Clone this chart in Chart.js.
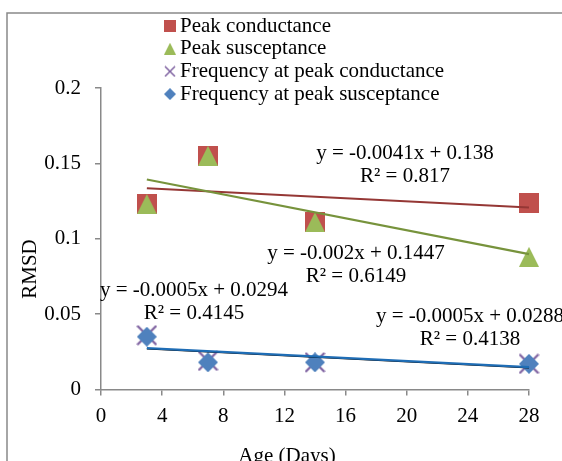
<!DOCTYPE html>
<html><head><meta charset="utf-8">
<script src="https://cdn.jsdelivr.net/npm/chart.js@4/dist/chart.umd.min.js"></script>
<style>html,body{margin:0;padding:0;background:#fff;overflow:hidden}</style>
</head><body>
<canvas id="c" width="562" height="461"></canvas>
<script>
// ---- data ----
const ages = [3, 7, 14, 28];
const peakConductance = [0.123, 0.155, 0.111, 0.124];
const peakSusceptance = [0.123, 0.155, 0.111, 0.088];
const freqPeakConductance = [0.036, 0.019, 0.018, 0.017];
const freqPeakSusceptance = [0.035, 0.018, 0.018, 0.017];
const trendAges = [3, 28];
const trendConductance = [0.1335, 0.1207];
const trendSusceptance = [0.1393, 0.0898];
const trendFreqConductance = [0.0270, 0.0145];
const trendFreqSusceptance = [0.0274, 0.0148];
const seriesNames = ['Peak conductance', 'Peak susceptance', 'Frequency at peak conductance', 'Frequency at peak susceptance'];
const xTicks = [0, 4, 8, 12, 16, 20, 24, 28];
const yTicks = [0, 0.05, 0.1, 0.15, 0.2];
const yTickLabels = ['0', '0.05', '0.1', '0.15', '0.2'];
const xTitle = 'Age (Days)';
const yTitle = 'RMSD';
const equationLabels = [
  ['y = -0.0041x + 0.138', 'R² = 0.817'],
  ['y = -0.002x + 0.1447', 'R² = 0.6149'],
  ['y = -0.0005x + 0.0294', 'R² = 0.4145'],
  ['y = -0.0005x + 0.0288', 'R² = 0.4138']
];

// ---- styling / layout ----
const FONT = '21px "Liberation Serif", "Times New Roman", serif';
const AXIS = '#898989';
const labelPos = [{x: 405, y: 153}, {x: 356, y: 253}, {x: 194, y: 290}, {x: 470, y: 316}];
const LINE_GAP = 23;

function makeMarker(kind, color, size) {
  const c = document.createElement('canvas');
  c.width = size; c.height = size;
  const g = c.getContext('2d');
  g.fillStyle = color; g.strokeStyle = color;
  g.beginPath();
  if (kind === 'square') {
    g.fillRect(0, 0, size, size);
  } else if (kind === 'triangle') {
    g.moveTo(size / 2, 0); g.lineTo(size, size); g.lineTo(0, size); g.closePath(); g.fill();
  } else if (kind === 'cross') {
    g.lineWidth = Math.max(1.5, size / 9);
    g.moveTo(1, 1); g.lineTo(size - 1, size - 1);
    g.moveTo(size - 1, 1); g.lineTo(1, size - 1);
    g.stroke();
  } else if (kind === 'diamond') {
    g.moveTo(size / 2, 0); g.lineTo(size, size / 2); g.lineTo(size / 2, size); g.lineTo(0, size / 2); g.closePath(); g.fill();
  }
  return c;
}
const markerDefs = [
  {kind: 'square', color: '#C0504D'},
  {kind: 'triangle', color: '#9BBB59'},
  {kind: 'cross', color: '#8064A2'},
  {kind: 'diamond', color: '#4F81BD'}
];
const plotMarkers = markerDefs.map((m, i) => makeMarker(m.kind, m.color, i === 2 ? 21 : 20));
const legendMarkers = markerDefs.map(m => makeMarker(m.kind, m.color, 12));

const pts = (xs, ys) => xs.map((x, i) => ({x: x, y: ys[i]}));
const markerSet = (i, ys) => ({
  label: seriesNames[i], data: pts(ages, ys), pointStyle: plotMarkers[i],
  pointRadius: 11, pointHoverRadius: 11, showLine: false, clip: false
});
const trendSet = (ys, color, w) => ({
  label: 'trend', data: pts(trendAges, ys), showLine: true, borderColor: color,
  borderWidth: w, pointRadius: 0, pointHoverRadius: 0, fill: false, clip: false, tension: 0
});

const decor = {
  id: 'decor',
  beforeDraw(chart) {
    const ctx = chart.ctx;
    ctx.save();
    ctx.fillStyle = '#fff';
    ctx.fillRect(0, 0, chart.width, chart.height);
    ctx.strokeStyle = AXIS; ctx.lineWidth = 1.5;
    ctx.beginPath(); ctx.moveTo(7, 461); ctx.lineTo(7, 13); ctx.lineTo(562, 13); ctx.stroke();
    ctx.restore();
  },
  afterDraw(chart) {
    const ctx = chart.ctx;
    ctx.save();
    ctx.font = FONT; ctx.fillStyle = '#000';
    // legend
    ctx.textAlign = 'left'; ctx.textBaseline = 'middle';
    seriesNames.forEach((name, i) => {
      const y = 26 + i * 22.7;
      ctx.drawImage(legendMarkers[i], 164, y - 6, 12, 12);
      ctx.fillText(name, 180, y);
    });
    // equation labels
    ctx.textAlign = 'center';
    equationLabels.forEach((lines, i) => {
      lines.forEach((t, j) => ctx.fillText(t, labelPos[i].x, labelPos[i].y + j * LINE_GAP));
    });
    // axis titles
    ctx.fillText(xTitle, 287, 456);
    ctx.translate(30, 269); ctx.rotate(-Math.PI / 2);
    ctx.fillText(yTitle, 0, 0);
    ctx.restore();
  }
};

new Chart(document.getElementById('c'), {
  type: 'scatter',
  data: {
    datasets: [
      trendSet(trendFreqSusceptance, '#1F6DB5', 2.25),
      trendSet(trendFreqConductance, '#000000', 1.5),
      trendSet(trendSusceptance, '#77933C', 2.25),
      trendSet(trendConductance, '#953735', 2),
      markerSet(3, freqPeakSusceptance),
      markerSet(2, freqPeakConductance),
      markerSet(1, peakSusceptance),
      markerSet(0, peakConductance)
    ]
  },
  options: {
    responsive: false, animation: false, devicePixelRatio: 1,
    layout: {padding: {left: 0, right: 33, top: 88, bottom: 0}},
    plugins: {legend: {display: false}, tooltip: {enabled: false}, title: {display: false}},
    scales: {
      x: {
        type: 'linear', min: 0, max: 28,
        afterBuildTicks: s => { s.ticks = xTicks.map(v => ({value: v})); },
        afterFit: s => { s.height = 71.5; },
        grid: {drawOnChartArea: false, drawTicks: true, tickLength: 6, color: AXIS, lineWidth: 1.5},
        border: {display: true, color: AXIS, width: 1.5},
        ticks: {color: '#000', font: {family: '"Liberation Serif", serif', size: 21}, padding: 8, maxRotation: 0, autoSkip: false}
      },
      y: {
        type: 'linear', min: 0, max: 0.2,
        afterBuildTicks: s => { s.ticks = yTicks.map(v => ({value: v})); },
        afterFit: s => { s.width = 101; },
        grid: {drawOnChartArea: false, drawTicks: true, tickLength: 6, color: AXIS, lineWidth: 1.5},
        border: {display: true, color: AXIS, width: 1.5},
        ticks: {color: '#000', font: {family: '"Liberation Serif", serif', size: 21}, padding: 14, autoSkip: false,
          callback: (v, i) => yTickLabels[i]}
      }
    }
  },
  plugins: [decor]
});
</script>
</body></html>
